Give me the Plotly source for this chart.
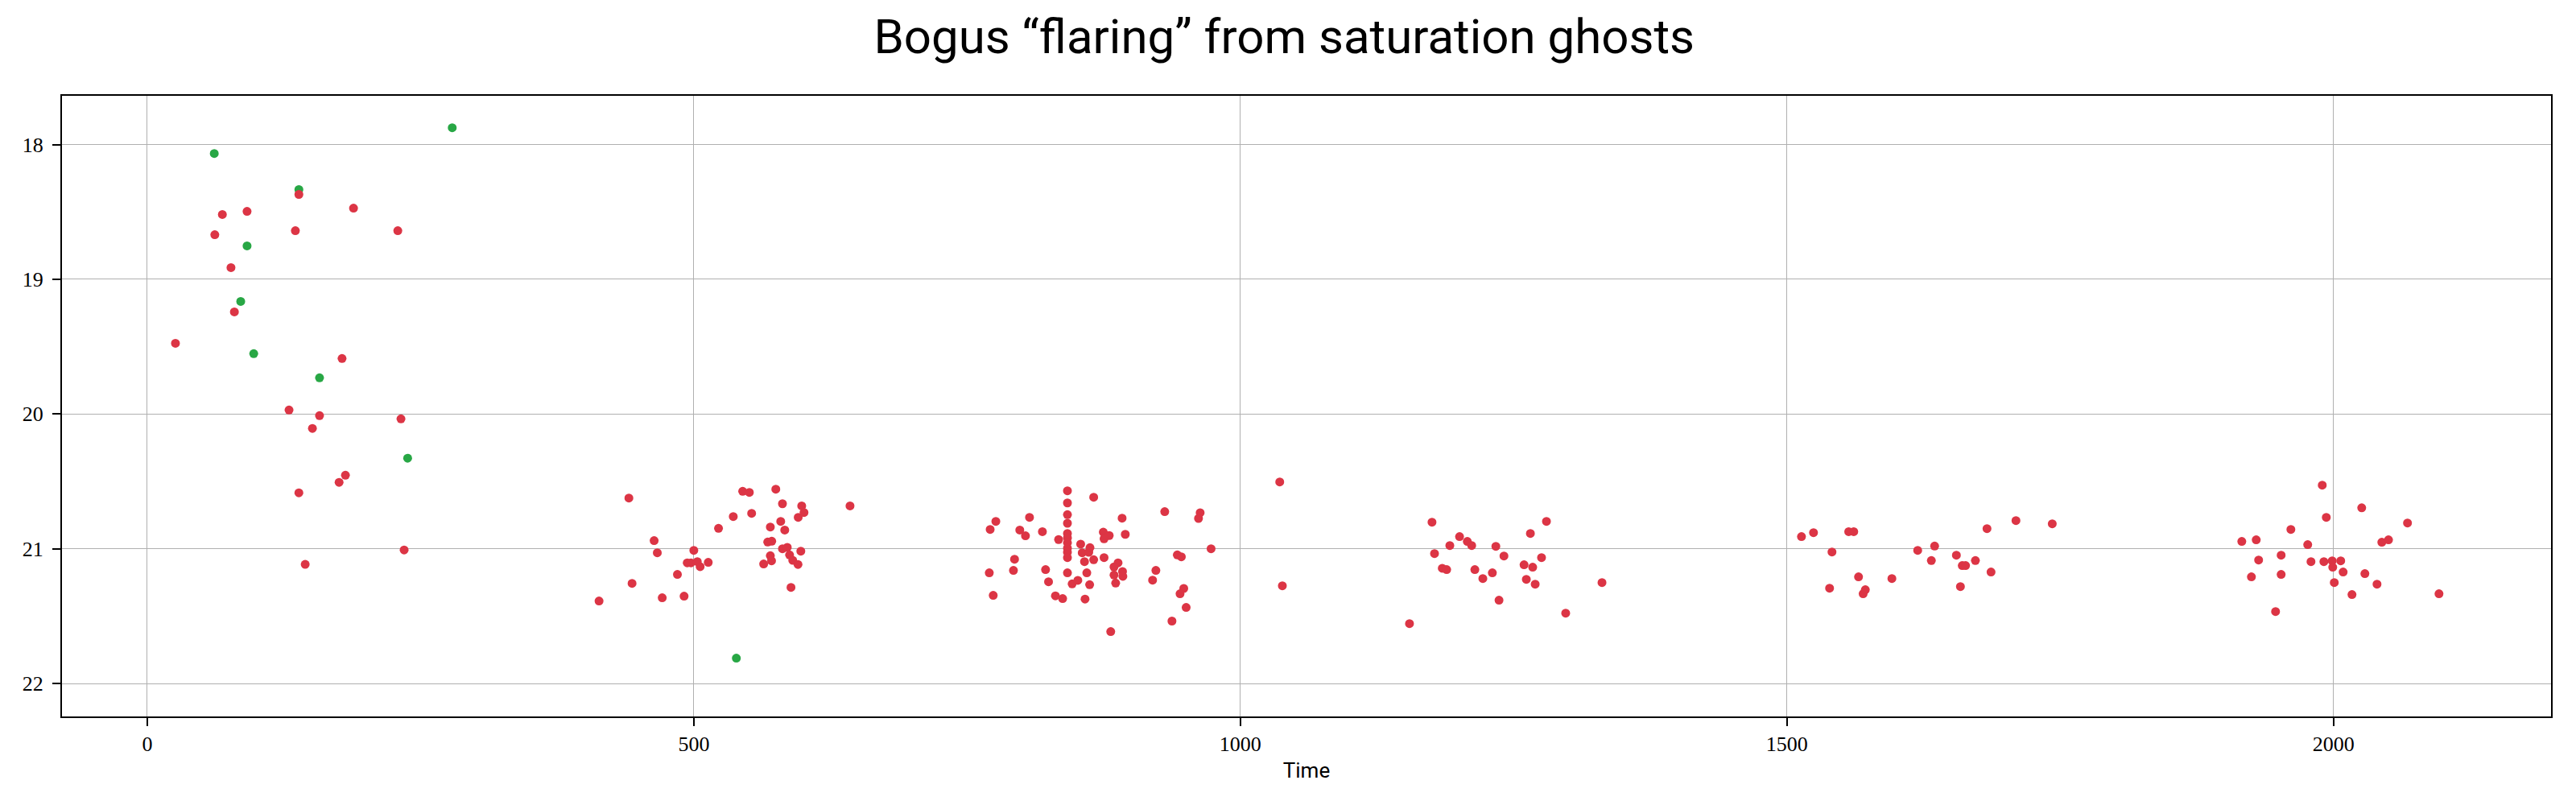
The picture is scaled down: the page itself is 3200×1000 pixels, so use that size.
import plotly.graph_objects as go

# ---- data ----
red_time = [
    25.8, 61.8, 68.7, 76.6, 79.7, 91.3, 129.7, 135.5, 138.7, 138.7,
    144.5, 151.1, 157.6, 175.5, 178.2, 181.3, 188.7, 229.2, 232.1, 235.0,
    413.3, 440.6, 443.5, 463.7, 466.6, 471.1, 485.0, 491.1, 494.0, 497.4,
    500.0, 503.2, 505.8, 513.2, 522.6, 536.1, 544.7, 550.8, 552.9, 563.9,
    567.6, 570.0, 570.0, 571.1, 571.3, 575.0, 579.5, 581.1, 581.1, 583.2,
    585.5, 587.6, 588.9, 590.5, 595.3, 595.5, 597.9, 598.7, 600.8, 642.9,
    770.3, 771.1, 773.9, 776.3, 792.4, 793.4, 798.2, 803.4, 807.1, 818.9,
    821.8, 824.5, 830.8, 833.7, 837.4, 841.8, 841.8, 841.8, 841.8, 841.8,
    841.8, 841.8, 841.8, 841.8, 841.8, 841.8, 846.1, 851.3, 853.9, 855.3,
    857.4, 857.9, 859.5, 861.3, 862.4, 862.1, 865.8, 865.8,
    875.3, 874.6, 880.0, 875.3, 891.8, 894.7, 888.1, 884.4, 884.4, 892.2,
    892.5, 885.9, 881.4, 919.7, 922.7, 930.8, 942.3, 946.0, 948.2, 944.8,
    950.4, 937.4, 963.2, 961.7, 973.2,
    1036.0, 1038.4, 1154.7, 1175.3, 1177.6, 1184.7, 1188.7, 1191.6, 1200.5, 1207.6,
    1211.6, 1214.5, 1221.8, 1230.5, 1233.7, 1236.6, 1241.1, 1259.5, 1261.6, 1265.3,
    1267.4, 1269.7, 1275.5, 1280.0, 1297.6, 1330.8,
    1513.3, 1524.3, 1541.2, 1539.0, 1556.5, 1561.1, 1565.5, 1569.7, 1571.7, 1596.0,
    1619.6, 1632.1, 1635.1, 1655.0, 1658.7, 1660.4, 1663.4, 1672.4, 1683.0, 1686.7,
    1709.5, 1742.7,
    1916.1, 1929.3, 1924.9, 1931.5, 1947.0, 1952.1, 1952.1, 1961.0, 1976.4, 1979.4,
    1989.7, 1991.2, 1993.4, 1998.8, 1999.3, 2000.7, 2006.6, 2008.8, 2016.9, 2025.8,
    2028.7, 2039.8, 2044.2, 2050.3, 2067.7, 2096.5,
]
red_mag = [
    19.475, 18.669, 18.519, 18.913, 19.242, 18.496, 19.970, 18.639, 18.370, 20.585,
    21.116, 20.107, 20.012, 20.507, 19.588, 20.454, 18.472, 18.639, 20.036, 21.009,
    21.388, 20.624, 21.257, 20.940, 21.030, 21.364, 21.191, 21.352, 21.105, 21.105,
    21.012, 21.096, 21.133, 21.101, 20.849, 20.761, 20.574, 20.582, 20.737, 21.113,
    20.950, 20.839, 21.052, 21.090, 20.944, 20.558, 20.797, 20.666, 21.000, 20.861,
    20.990, 21.046, 21.287, 21.086, 21.117, 20.767, 21.018, 20.682, 20.731, 20.682,
    21.179, 20.857, 21.346, 20.797, 21.161, 21.078, 20.861, 20.904, 20.767, 20.873,
    21.155, 21.245, 21.350, 20.932, 21.370, 20.570, 20.660, 20.747, 20.811, 20.887,
    20.920, 20.956, 20.996, 21.026, 21.066, 21.179, 21.261, 21.235, 20.966, 21.030,
    21.096, 21.374, 21.179, 21.026, 20.992, 21.267, 20.618, 21.082,
    21.066, 20.877, 20.902, 20.926, 20.773, 20.893, 21.105, 21.135, 21.195, 21.169,
    21.205, 21.255, 21.615, 21.233, 21.161, 20.725, 21.046, 21.060, 21.295, 21.334,
    21.436, 21.537, 20.733, 20.775, 21.000,
    20.504, 21.275, 21.556, 20.803, 21.036, 21.145, 21.155, 20.976, 20.910, 20.946,
    20.976, 21.155, 21.221, 21.179, 20.982, 21.382, 21.054, 21.119, 21.227, 20.887,
    21.137, 21.263, 21.066, 20.797, 21.478, 21.251,
    20.910, 20.881, 21.024, 21.293, 20.873, 20.873, 21.209, 21.334, 21.304, 21.221,
    21.012, 21.088, 20.980, 21.048, 21.281, 21.125, 21.125, 21.088, 20.851, 21.173,
    20.791, 20.815,
    20.946, 20.934, 21.209, 21.084, 21.466, 21.048, 21.191, 20.857, 20.970, 21.096,
    20.528, 21.096, 20.767, 21.090, 21.137, 21.251, 21.090, 21.173, 21.340, 20.696,
    21.185, 21.263, 20.952, 20.934, 20.809, 21.334,
]

green_time = [61.3, 85.5, 91.3, 97.4, 138.7, 157.6, 238.2, 279.0, 538.9]
green_mag = [18.066, 19.164, 18.752, 19.552, 18.334, 19.731, 20.328, 17.875, 21.812]

x_ticks = [0, 500, 1000, 1500, 2000]
y_ticks = [18, 19, 20, 21, 22]

RED = "#dc3545"
GREEN = "#28a745"

fig = go.Figure()
fig.add_trace(go.Scatter(x=green_time, y=green_mag, mode="markers",
                         marker=dict(color=GREEN, size=11, line=dict(width=0)),
                         showlegend=False))
fig.add_trace(go.Scatter(x=red_time, y=red_mag, mode="markers",
                         marker=dict(color=RED, size=11, line=dict(width=0)),
                         showlegend=False))

axis_common = dict(
    showgrid=True, gridcolor="#b0b0b0", gridwidth=1,
    showline=True, linecolor="black", linewidth=2, mirror=True,
    ticks="outside", ticklen=10, tickwidth=2, tickcolor="black",
    zeroline=False, automargin=False,
    tickfont=dict(family="Liberation Serif, DejaVu Serif, serif", size=26, color="black"),
)

# the page body adds an 8 px offset; margins compensate for it
fig.update_layout(
    width=3200, height=1000,
    plot_bgcolor="white", paper_bgcolor="white",
    margin=dict(l=69, r=39, t=111, b=118),
    title=dict(text="Bogus “flaring” from saturation ghosts",
               x=0.496, xanchor="center", xref="container",
               y=0.963, yref="container", yanchor="middle", automargin=False,
               font=dict(family="Roboto, sans-serif", size=60, color="black")),
    xaxis=dict(range=[-78, 2199], tickvals=x_ticks, ticktext=[str(v) for v in x_ticks],
               ticklabelstandoff=0,
               title=dict(text="Time", standoff=10,
                          font=dict(family="Roboto, sans-serif", size=26, color="black")),
               **axis_common),
    yaxis=dict(range=[22.245, 17.638], tickvals=y_ticks, ticktext=[str(v) for v in y_ticks],
               ticklabelstandoff=6,
               **axis_common),
)

fig.write_html("out.html")
